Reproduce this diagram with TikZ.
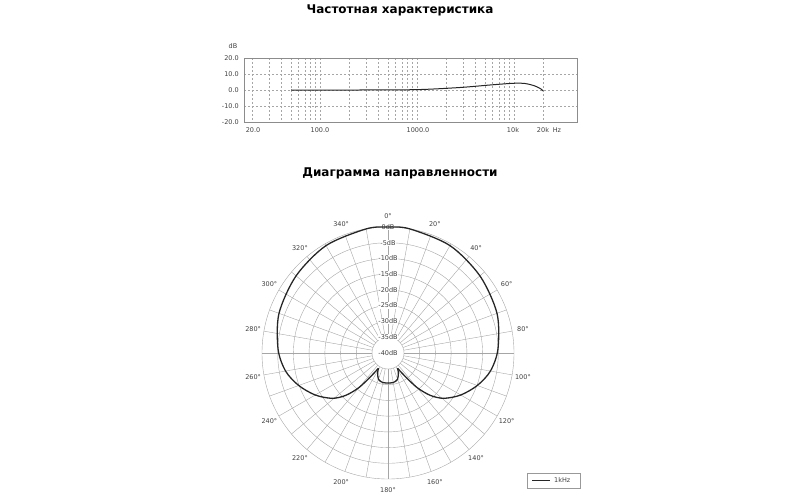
\documentclass[tikz,border=0pt]{standalone}
\usepackage{fontspec}
\setmainfont{DejaVu Sans}
\begin{document}
\begin{tikzpicture}[x=1pt,y=-1pt,
  grid/.style={gray!70,line width=0.4pt},
  dgrid/.style={gray!70,line width=0.4pt,dashed,dash pattern=on 2pt off 2pt},
  lab/.style={font=\fontsize{6.5}{7}\selectfont,text=black!75,inner sep=1pt},
  ttl/.style={font=\bfseries\fontsize{12}{14}\selectfont},
  curve/.style={line width=1.3pt,black!85}]
\useasboundingbox (0,0) rectangle (800,500);
\node[ttl] (t1) at (400,10) {Частотная характеристика};
\node[ttl] (t2) at (400,173) {Диаграмма направленности};
% frequency chart (frequencies in units of 10 Hz)
\foreach \f in {2,3,4,5,6,7,8,9,10,20,30,40,50,60,70,80,90,100,200,300,400,500,600,700,800,900,1000,2000}{
  \pgfmathsetmacro\xx{320+97*log10(\f/10)}
  \draw[dgrid] (\xx,58) -- (\xx,122);}
\foreach \d in {10,0,-10}{\draw[dgrid] (244,90-1.6*\d) -- (577,90-1.6*\d);}
\draw[gray!90,line width=0.6pt] (244,58) rectangle (577,122);
\node[lab] (db) at (233,46) {dB};
\foreach \d/\t in {20/20.0,10/10.0,0/0.0,-10/-10.0,-20/-20.0}{\node[lab,anchor=east] at (240,90-1.6*\d) {\t};}
\foreach \x/\t in {253/20.0,320/100.0,418/1000.0,513/10k,543/20k,557/Hz}{\node[lab] at (\x,130) {\t};}
\draw[curve,line width=1pt] plot[smooth] coordinates {(291,90) (360,90) (418,89.6) (460,87.5) (490,85) (513,83.3) (525,83.5) (535,86) (541,89) (543,91)};
% polar chart
\def\cx{388}\def\cy{353}
\foreach \r in {16,31.7,47.4,63.1,78.9,94.6,110.3,126}{\draw[grid] (\cx,\cy) circle[radius=\r];}
\foreach \a in {0,10,...,350}{\draw[grid] ({\cx+16*sin(\a)},{\cy-16*cos(\a)}) -- ({\cx+126*sin(\a)},{\cy-126*cos(\a)});}
\foreach \a in {0,20,...,340}{\node[lab] at ({\cx+137*sin(\a)},{\cy-137*cos(\a)}) {\a°};}
\foreach \i/\t in {0/0dB,1/-5dB,2/-10dB,3/-15dB,4/-20dB,5/-25dB,6/-30dB,7/-35dB}{
  \node[lab,fill=white,inner sep=0.5pt] at (\cx,{\cy-126+15.7*\i}) {\t};}
\node[lab,fill=white] at (\cx,\cy) {-40dB};
\draw[curve] plot[smooth] coordinates {
({\cx+30*sin(180)},{\cy-30*cos(180)}) ({\cx+30*sin(170)},{\cy-30*cos(170)}) ({\cx+28*sin(160)},{\cy-28*cos(160)}) ({\cx+22*sin(152)},{\cy-22*cos(152)})
({\cx+18*sin(148)},{\cy-18*cos(148)})};
\draw[curve] plot[smooth] coordinates {
({\cx+18*sin(148)},{\cy-18*cos(148)}) ({\cx+28*sin(144)},{\cy-28*cos(144)}) ({\cx+45*sin(140)},{\cy-45*cos(140)}) ({\cx+60*sin(135)},{\cy-60*cos(135)}) ({\cx+72*sin(129)},{\cy-72*cos(129)}) ({\cx+84*sin(120)},{\cy-84*cos(120)}) ({\cx+95*sin(110)},{\cy-95*cos(110)}) ({\cx+104*sin(100)},{\cy-104*cos(100)}) ({\cx+110*sin(88)},{\cy-110*cos(88)}) ({\cx+116*sin(70)},{\cy-116*cos(70)}) ({\cx+120*sin(50)},{\cy-120*cos(50)}) ({\cx+124*sin(30)},{\cy-124*cos(30)}) ({\cx+126*sin(10)},{\cy-126*cos(10)}) ({\cx},{\cy-126})
({\cx-126*sin(10)},{\cy-126*cos(10)}) ({\cx-124*sin(30)},{\cy-124*cos(30)}) ({\cx-120*sin(50)},{\cy-120*cos(50)}) ({\cx-116*sin(70)},{\cy-116*cos(70)}) ({\cx-110*sin(88)},{\cy-110*cos(88)}) ({\cx-104*sin(100)},{\cy-104*cos(100)}) ({\cx-95*sin(110)},{\cy-95*cos(110)}) ({\cx-84*sin(120)},{\cy-84*cos(120)}) ({\cx-72*sin(129)},{\cy-72*cos(129)}) ({\cx-60*sin(135)},{\cy-60*cos(135)}) ({\cx-45*sin(140)},{\cy-45*cos(140)}) ({\cx-28*sin(144)},{\cy-28*cos(144)}) ({\cx-18*sin(148)},{\cy-18*cos(148)})};
\draw[curve] plot[smooth] coordinates {
({\cx-18*sin(148)},{\cy-18*cos(148)}) ({\cx-22*sin(152)},{\cy-22*cos(152)}) ({\cx-28*sin(160)},{\cy-28*cos(160)}) ({\cx-30*sin(170)},{\cy-30*cos(170)}) ({\cx},{\cy+30})};
% legend
\draw[gray!80,line width=0.6pt] (527,473) rectangle (580,488);
\coordinate (l1) at (532,480.5); \coordinate (l2) at (550,480.5);
\draw[curve,line width=1pt] (l1) -- (l2);
\node[lab,anchor=west] (lk) at (553,480.5) {1kHz};
\end{tikzpicture}
\end{document}
